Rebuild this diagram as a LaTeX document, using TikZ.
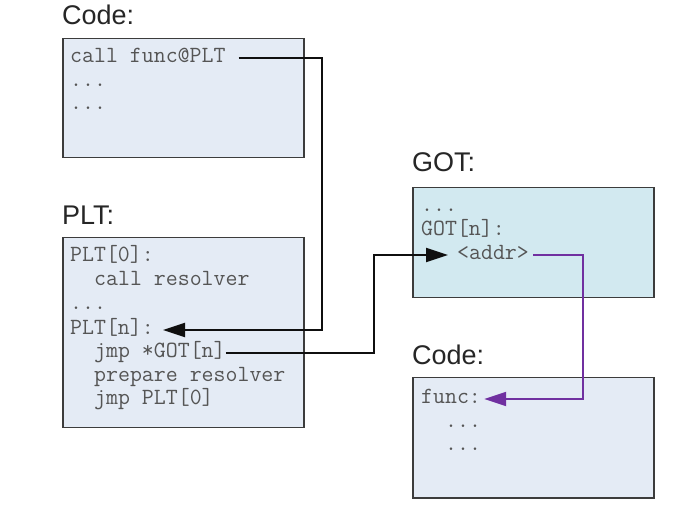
\documentclass[tikz,border=0pt]{standalone}
\usepackage{fontspec}
\setmainfont{Liberation Sans}
\usetikzlibrary{arrows.meta}
\definecolor{boxfill}{RGB}{228,235,245}
\definecolor{gotfill}{RGB}{210,233,240}
\definecolor{boxline}{RGB}{60,60,60}
\definecolor{codetext}{RGB}{85,85,85}
\definecolor{purp}{RGB}{112,48,160}
\definecolor{conncol}{RGB}{15,15,15}
\begin{document}
\begin{tikzpicture}[x=1pt,y=-1pt,
 panel/.style={draw=boxline, line width=1.5pt, fill=boxfill, anchor=north west, inner sep=0pt, minimum width=241pt},
 title/.style={anchor=base west, inner sep=0pt, font=\fontsize{27}{31}\selectfont, text=black!85},
 code/.style={anchor=west, inner sep=0pt, text height=12pt, text depth=3pt, font=\ttfamily\fontsize{23.2}{26}\selectfont, text=codetext},
 conn/.style={line width=2pt, draw=conncol, -{Triangle[length=22pt,width=14pt]}},
]
\useasboundingbox (0,0) rectangle (691,510);

% titles
\node[title] (t1) at (62,25) {Code:};
\node[title] (t2) at (62,225) {PLT:};
\node[title] (t3) at (412,172) {GOT:};
\node[title] (t4) at (412,365) {Code:};

% panels
\node[panel, minimum height=119pt] (codebox) at (62,38) {};
\node[panel, minimum height=190pt] (pltbox) at (62,237) {};
\node[panel, minimum height=110pt, fill=gotfill] (gotbox) at (412,187) {};
\node[panel, minimum height=120pt] (funcbox) at (412,377) {};

% code box text
\node[code] (callf) at (70,58) {call func@PLT};
\node[code] (cd1) at (70,82) {...};
\node[code] (cd2) at (70,105) {...};

% PLT text
\node[code] (plt0) at (70,257) {PLT[0]:};
\node[code] (callres) at (94,281) {call resolver};
\node[code] (pd1) at (70,305) {...};
\node[code] (pltn) at (70,330) {PLT[n]:};
\node[code] (jmpgot) at (94,353) {jmp *GOT[n]};
\node[code] (prep) at (94,377) {prepare resolver};
\node[code] (jmpplt) at (94,400) {jmp PLT[0]};

% GOT text
\node[code] (gd1) at (421,207) {...};
\node[code] (gotn) at (421,231) {GOT[n]:};
\node[code] (addr) at (457,255) {<addr>};

% func text
\node[code] (func) at (421,399) {func:};
\node[code] (fd1) at (445,423) {...};
\node[code] (fd2) at (445,446) {...};

% bend points
\coordinate (j1) at (322,200);
\coordinate (j2) at (374,300);
\coordinate (j3) at (583,330);

% connectors
\draw[conn] ([xshift=13pt]callf.east) -| (j1) |- ([xshift=9pt]pltn.east);
\draw[conn] (jmpgot.east) -| (j2) |- ([xshift=-9pt]addr.west);
\draw[conn, draw=purp] ([xshift=4pt]addr.east) -| (j3) |- ([xshift=3pt]func.east);
\end{tikzpicture}
\end{document}
